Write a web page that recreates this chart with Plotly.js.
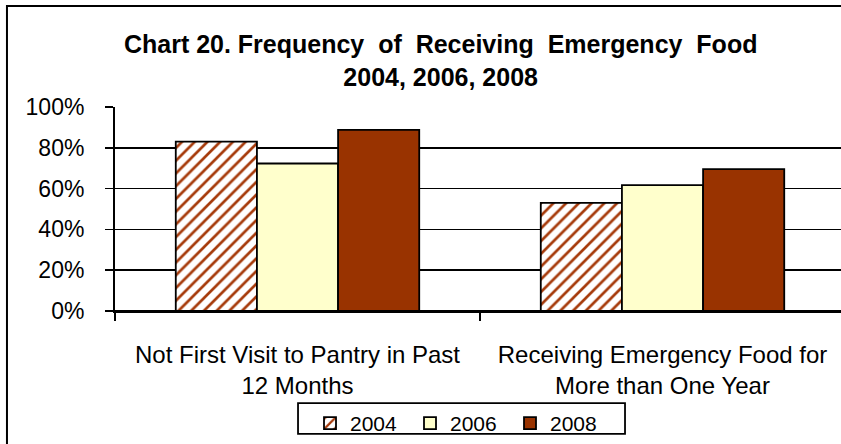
<!DOCTYPE html>
<html>
<head>
<meta charset="utf-8">
<script src="https://cdn.plot.ly/plotly-3.0.1.min.js"></script>
<style>
  html, body { margin: 0; padding: 0; background: #fff; overflow: hidden; }
  #chart { width: 841px; height: 444px; }
</style>
</head>
<body>
<div id="chart"></div>
<script>
// Data
var categories = ["Not First Visit to Pantry in Past<br>12 Months", "Receiving Emergency Food for<br>More than One Year"];
var seriesNames = ["2004", "2006", "2008"];
var values2004 = [0.83, 0.53];
var values2006 = [0.723, 0.617];
var values2008 = [0.888, 0.695];
var yTickVals = [0, 0.2, 0.4, 0.6, 0.8, 1.0];
var yTickText = ["0%", "20%", "40%", "60%", "80%", "100%"];

var FONT = "Liberation Sans, Arial, sans-serif";
var outline = {color: "#000000", width: 1.8};
var G = " \u00a0";

var traces = [
  {
    type: "bar", name: seriesNames[0], x: categories, y: values2004,
    marker: {
      color: "#ffffff",
      line: outline,
      pattern: {shape: "/", fgcolor: "#a63a0a", bgcolor: "#ffffff", size: 9, solidity: 0.3}
    },
    hoverinfo: "skip"
  },
  {
    type: "bar", name: seriesNames[1], x: categories, y: values2006,
    marker: {color: "#ffffcc", line: outline},
    hoverinfo: "skip"
  },
  {
    type: "bar", name: seriesNames[2], x: categories, y: values2008,
    marker: {color: "#993300", line: outline},
    hoverinfo: "skip"
  }
];

var layout = {
  width: 841, height: 444,
  margin: {l: 115, r: 0, t: 107, b: 131, pad: 0},
  paper_bgcolor: "#ffffff", plot_bgcolor: "#ffffff",
  font: {family: FONT, color: "#000000", size: 22},
  title: {
    text: "Chart 20. Frequency" + G + "of" + G + "Receiving" + G + "Emergency" + G + "Food<br>2004, 2006, 2008",
    font: {family: FONT, size: 25, color: "#000000", weight: "bold"},
    x: 0.524, xanchor: "center", xref: "container",
    y: 1 - 53 / 444, yanchor: "top", yref: "container"
  },
  barmode: "group",
  bargap: 0.333,
  bargroupgap: 0,
  showlegend: true,
  legend: {
    orientation: "h",
    x: 0.2686, xanchor: "left",
    y: -0.451, yanchor: "top",
    borderwidth: 0,
    bgcolor: "rgba(0,0,0,0)",
    entrywidth: 55, entrywidthmode: "pixels",
    font: {family: FONT, size: 21, color: "#000000"},
    traceorder: "normal"
  },
  xaxis: {
    type: "category",
    range: [-0.5, 1.489],
    showline: true, linecolor: "#000000", linewidth: 2,
    ticks: "outside", tickson: "boundaries", ticklen: 8, tickwidth: 1.5, tickcolor: "#000000",
    tickfont: {family: FONT, size: 24, color: "#000000"},
    ticklabelstandoff: 21,
    showgrid: false, zeroline: false, fixedrange: true
  },
  yaxis: {
    range: [0, 1],
    tickvals: yTickVals, ticktext: yTickText,
    showline: true, linecolor: "#000000", linewidth: 2,
    ticks: "outside", ticklen: 8, tickwidth: 1.5, tickcolor: "#000000",
    tickfont: {family: FONT, size: 23, color: "#000000"},
    ticklabelstandoff: 16,
    showgrid: true, gridcolor: "#000000", gridwidth: 1.5,
    zeroline: true, zerolinecolor: "#000000", zerolinewidth: 2.5,
    fixedrange: true
  },
  shapes: [
    {
      type: "rect", xref: "paper", yref: "paper", layer: "above",
      x0: -0.1488, x1: 1.2, y0: -0.9, y1: 1.4951,
      line: {color: "#000000", width: 2}, fillcolor: "rgba(0,0,0,0)"
    },
    {
      type: "rect", xref: "paper", yref: "paper", layer: "above",
      x0: 0.2521, x1: 0.7025, y0: -0.602, y1: -0.4515,
      line: {color: "#000000", width: 1.8}, fillcolor: "rgba(0,0,0,0)"
    }
  ]
};

Plotly.newPlot("chart", traces, layout, {displayModeBar: false, staticPlot: true});
</script>
</body>
</html>
